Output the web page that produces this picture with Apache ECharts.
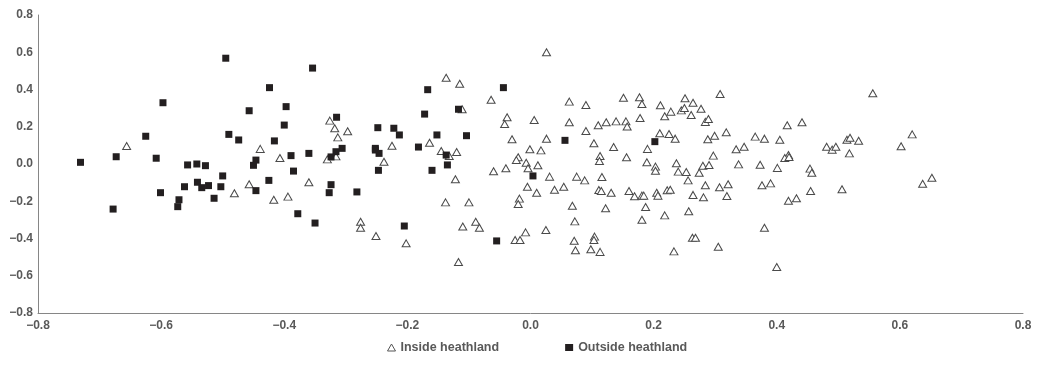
<!DOCTYPE html>
<html>
<head>
<meta charset="utf-8">
<script src="https://cdn.jsdelivr.net/npm/echarts@6/dist/echarts.min.js"></script>
<style>
  html, body { margin: 0; padding: 0; background: #fff; }
  #chart { width: 1041px; height: 367px; }
</style>
</head>
<body>
<div id="chart"></div>
<script>
// Ordination scores of sampled plots, [axis 1, axis 2]
const insideHeathland = [
  [-0.656, 0.097],
  [-0.439, 0.081], [-0.407, 0.032], [-0.457, -0.109], [-0.481, -0.157], [-0.417, -0.192],
  [-0.394, -0.175], [-0.360, -0.098],
  [-0.137, 0.463], [-0.326, 0.233], [-0.318, 0.192], [-0.297, 0.176], [-0.313, 0.143],
  [-0.164, 0.114], [-0.225, 0.098], [-0.316, 0.041], [-0.330, 0.025], [-0.238, 0.012],
  [-0.145, 0.070], [-0.132, 0.043], [-0.138, -0.206], [-0.276, -0.310], [-0.276, -0.342],
  [-0.251, -0.387], [-0.202, -0.426],
  [0.026, 0.600], [-0.115, 0.431], [-0.064, 0.345], [0.063, 0.335], [-0.111, 0.294],
  [-0.038, 0.251], [-0.042, 0.215], [0.006, 0.236], [0.063, 0.224], [-0.030, 0.133],
  [0.026, 0.136], [-0.120, 0.064], [-0.001, 0.079], [0.017, 0.073], [-0.020, 0.036],
  [-0.023, 0.021], [-0.007, 0.007], [0.012, -0.007], [-0.004, -0.023], [-0.040, -0.023],
  [-0.060, -0.039], [0.031, -0.068], [0.075, -0.068], [-0.122, -0.082], [-0.005, -0.122],
  [0.010, -0.154], [0.039, -0.138], [0.054, -0.122], [-0.100, -0.206], [-0.018, -0.186],
  [-0.020, -0.215], [0.068, -0.224], [-0.089, -0.310], [-0.083, -0.342], [-0.110, -0.336],
  [-0.008, -0.367], [0.025, -0.354], [0.072, -0.308], [-0.025, -0.408], [-0.017, -0.408],
  [0.071, -0.412], [0.073, -0.463], [-0.117, -0.526],
  [0.090, 0.317], [0.151, 0.356], [0.177, 0.358], [0.181, 0.322], [0.211, 0.315],
  [0.251, 0.353], [0.264, 0.329], [0.277, 0.297], [0.245, 0.288], [0.250, 0.301],
  [0.228, 0.281], [0.218, 0.256], [0.261, 0.263], [0.178, 0.247], [0.284, 0.226],
  [0.289, 0.242], [0.090, 0.177], [0.110, 0.208], [0.123, 0.224], [0.139, 0.229],
  [0.155, 0.229], [0.157, 0.201], [0.103, 0.111], [0.135, 0.091], [0.210, 0.165],
  [0.225, 0.161], [0.235, 0.136], [0.190, 0.081], [0.288, 0.133], [0.113, 0.043],
  [0.112, 0.016], [0.156, 0.036], [0.189, 0.009], [0.203, -0.014], [0.203, -0.036],
  [0.237, 0.004], [0.240, -0.041], [0.253, -0.043], [0.256, -0.088], [0.274, -0.047],
  [0.280, -0.009], [0.290, -0.005], [0.088, -0.088], [0.116, -0.070], [0.111, -0.140],
  [0.115, -0.145], [0.131, -0.154], [0.160, -0.145], [0.169, -0.173], [0.181, -0.170],
  [0.184, -0.170], [0.205, -0.154], [0.207, -0.170], [0.222, -0.141], [0.227, -0.138],
  [0.264, -0.166], [0.281, -0.179], [0.284, -0.114], [0.122, -0.238], [0.187, -0.231],
  [0.181, -0.299], [0.218, -0.276], [0.257, -0.254], [0.104, -0.390], [0.103, -0.408],
  [0.098, -0.458], [0.113, -0.472], [0.263, -0.396], [0.268, -0.396], [0.233, -0.469],
  [0.308, 0.376], [0.299, 0.152], [0.318, 0.170], [0.417, 0.208], [0.441, 0.224],
  [0.365, 0.147], [0.380, 0.136], [0.405, 0.130], [0.334, 0.079], [0.347, 0.093],
  [0.297, 0.045], [0.338, -0.002], [0.373, -0.004], [0.401, -0.021], [0.419, 0.048],
  [0.413, 0.032], [0.420, 0.038], [0.481, 0.093], [0.490, 0.077], [0.496, 0.093],
  [0.454, -0.025], [0.457, -0.047], [0.307, -0.125], [0.321, -0.109], [0.319, -0.172],
  [0.376, -0.114], [0.390, -0.104], [0.419, -0.197], [0.432, -0.184], [0.455, -0.145],
  [0.380, -0.342], [0.305, -0.444], [0.400, -0.553],
  [0.556, 0.380], [0.514, 0.130], [0.519, 0.141], [0.533, 0.125], [0.518, 0.057],
  [0.620, 0.159], [0.602, 0.095], [0.506, -0.136], [0.652, -0.074], [0.637, -0.106]
];

const outsideHeathland = [
  [-0.597, 0.329], [-0.625, 0.149], [-0.673, 0.039], [-0.731, 0.009], [-0.608, 0.031],
  [-0.557, -0.005], [-0.562, -0.122], [-0.601, -0.154], [-0.571, -0.192], [-0.573, -0.229],
  [-0.678, -0.242],
  [-0.495, 0.568], [-0.354, 0.515], [-0.424, 0.410], [-0.397, 0.308], [-0.457, 0.286],
  [-0.400, 0.209], [-0.490, 0.159], [-0.474, 0.129], [-0.416, 0.124], [-0.389, 0.045],
  [-0.360, 0.057], [-0.446, 0.021], [-0.450, -0.007], [-0.542, 0.000], [-0.528, -0.009],
  [-0.385, -0.038], [-0.500, -0.064], [-0.541, -0.098], [-0.523, -0.116], [-0.503, -0.122],
  [-0.534, -0.127], [-0.425, -0.088], [-0.446, -0.143], [-0.514, -0.184], [-0.378, -0.267],
  [-0.350, -0.317],
  [-0.167, 0.399], [-0.172, 0.268], [-0.315, 0.251], [-0.248, 0.195], [-0.222, 0.192],
  [-0.213, 0.156], [-0.152, 0.156], [-0.182, 0.091], [-0.306, 0.084], [-0.316, 0.066],
  [-0.324, 0.038], [-0.252, 0.084], [-0.252, 0.075], [-0.246, 0.057], [-0.247, -0.034],
  [-0.137, 0.048], [-0.135, -0.005], [-0.160, -0.034], [-0.324, -0.111], [-0.327, -0.154],
  [-0.282, -0.150], [-0.205, -0.333],
  [-0.044, 0.410], [-0.117, 0.294], [-0.104, 0.152], [0.056, 0.127], [0.004, -0.064],
  [-0.055, -0.413],
  [0.202, 0.120]
];

const seriesNames = ['Inside heathland', 'Outside heathland'];
const axisMin = -0.8;
const axisMax = 0.8;
const axisStep = 0.2;

const textGrey = '#595959';
const lineGrey = '#868686';
const labelFont = '"Liberation Sans", Arial, sans-serif';

// Tick labels use a true minus sign and one decimal place
function tickLabel(v) {
  const s = Math.abs(v).toFixed(1);
  return v < -1e-9 ? '\u2212' + s : s;
}

const axisCommon = {
  type: 'value',
  min: axisMin,
  max: axisMax,
  interval: axisStep,
  splitLine: { show: false },
  axisTick: { show: false },
  axisLine: { show: true, onZero: false, lineStyle: { color: lineGrey, width: 1 } },
  axisLabel: {
    color: textGrey,
    fontWeight: 'bold',
    fontSize: 12,
    fontFamily: labelFont,
    formatter: tickLabel
  }
};

const chart = echarts.init(document.getElementById('chart'), null, { renderer: 'canvas' });

chart.setOption({
  animation: false,
  backgroundColor: '#ffffff',
  grid: { left: 38, right: 18, top: 15, bottom: 54, containLabel: false },
  xAxis: Object.assign({}, axisCommon, {
    axisLabel: Object.assign({}, axisCommon.axisLabel, { margin: 7 })
  }),
  yAxis: Object.assign({}, axisCommon, {
    axisLabel: Object.assign({}, axisCommon.axisLabel, { margin: 5 })
  }),
  legend: {
    bottom: 8,
    left: 382,
    itemGap: 66,
    itemWidth: 8,
    itemHeight: 7,
    textStyle: { color: textGrey, fontWeight: 'bold', fontSize: 12.5, fontFamily: labelFont },
    data: [
      { name: seriesNames[0], icon: 'triangle',
        itemStyle: { color: '#ffffff', borderColor: '#555555', borderWidth: 1 } },
      { name: seriesNames[1], icon: 'rect',
        itemStyle: { color: '#231f20', borderWidth: 0 } }
    ]
  },
  series: [
    {
      name: seriesNames[0],
      type: 'scatter',
      symbol: 'triangle',
      symbolSize: [8, 7],
      data: insideHeathland,
      itemStyle: { color: '#ffffff', borderColor: '#4a4a4a', borderWidth: 1, opacity: 1 },
      z: 2
    },
    {
      name: seriesNames[1],
      type: 'scatter',
      symbol: 'rect',
      symbolSize: 7,
      data: outsideHeathland,
      itemStyle: { color: '#231f20', opacity: 1 },
      z: 3
    }
  ]
});
</script>
</body>
</html>
